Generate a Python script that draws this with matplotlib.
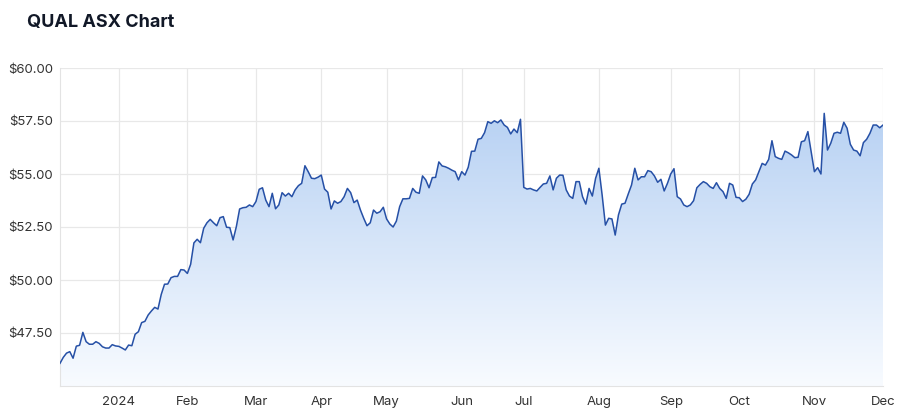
import numpy as np
import pandas as pd
import matplotlib
matplotlib.use("Agg")
import matplotlib.pyplot as plt
from matplotlib.colors import LinearSegmentedColormap

# ASX trading days, Dec 2023 - Dec 2024
start_date = "2023-12-04"
end_date = "2024-12-02"
holidays = ["2023-12-25", "2023-12-26", "2024-01-01", "2024-01-26",
            "2024-03-29", "2024-04-01", "2024-04-25", "2024-06-10"]

# closing prices
prices = [
    46.07, 46.35, 46.55, 46.62, 46.31, 46.88, 46.92, 47.53, 47.09, 46.97,
    46.97, 47.09, 47.01, 46.85, 46.79, 46.79, 46.95, 46.89, 46.87, 46.79,
    46.70, 46.93, 46.90, 47.44, 47.56, 47.99, 48.05, 48.35, 48.54, 48.71,
    48.63, 49.32, 49.80, 49.81, 50.11, 50.17, 50.17, 50.49, 50.47, 50.31,
    50.74, 51.75, 51.92, 51.76, 52.44, 52.70, 52.86, 52.70, 52.56, 52.94,
    52.99, 52.49, 52.47, 51.89, 52.52, 53.35, 53.41, 53.43, 53.54, 53.46,
    53.70, 54.28, 54.35, 53.77, 53.46, 54.09, 53.36, 53.54, 54.12, 53.96,
    54.09, 53.93, 54.25, 54.45, 54.56, 55.39, 55.11, 54.80, 54.78, 54.85,
    54.95, 54.29, 54.14, 53.35, 53.73, 53.62, 53.70, 53.93, 54.32, 54.12,
    53.65, 53.77, 53.30, 52.91, 52.56, 52.70, 53.30, 53.15, 53.22, 53.43,
    52.88, 52.64, 52.50, 52.78, 53.46, 53.83, 53.83, 53.85, 54.32, 54.14,
    54.09, 54.91, 54.72, 54.35, 54.83, 54.84, 55.57, 55.38, 55.34, 55.27,
    55.18, 55.11, 54.72, 55.11, 54.95, 55.32, 56.07, 56.08, 56.64, 56.68,
    56.95, 57.47, 57.39, 57.51, 57.42, 57.55, 57.31, 57.20, 56.89, 57.12,
    56.95, 57.58, 54.37, 54.29, 54.32, 54.25, 54.20, 54.37, 54.53, 54.56,
    54.91, 54.25, 54.80, 54.95, 54.94, 54.25, 53.96, 53.85, 54.64, 54.64,
    53.93, 53.58, 54.32, 53.96, 54.80, 55.27, 54.01, 52.59, 52.91, 52.88,
    52.12, 53.07, 53.58, 53.62, 54.06, 54.48, 55.27, 54.72, 54.87, 54.87,
    55.16, 55.11, 54.91, 54.61, 54.75, 54.20, 54.56, 55.00, 55.25, 53.93,
    53.82, 53.54, 53.46, 53.54, 53.74, 54.35, 54.51, 54.64, 54.56, 54.40,
    54.32, 54.59, 54.32, 54.17, 53.85, 54.56, 54.48, 53.90, 53.88, 53.70,
    53.81, 54.04, 54.53, 54.72, 55.11, 55.50, 55.42, 55.69, 56.57, 55.82,
    55.74, 55.69, 56.08, 56.00, 55.90, 55.77, 55.79, 56.52, 56.57, 57.00,
    56.05, 55.11, 55.30, 55.00, 57.86, 56.13, 56.45, 56.92, 56.97, 56.92,
    57.44, 57.16, 56.40, 56.13, 56.08, 55.86, 56.48, 56.64, 56.92, 57.31,
    57.31, 57.18, 57.31,
]

y_ticks = [47.5, 50.0, 52.5, 55.0, 57.5, 60.0]

dates = pd.bdate_range(start_date, end_date)
dates = dates[~dates.isin(pd.to_datetime(holidays))]
x = np.arange(len(dates))

# first trading day of each month (skip the partial first month)
first = np.r_[False, dates.month[1:] != dates.month[:-1]]
tick_pos = x[first]
tick_lbl = ["2024" if d.month == 1 else d.strftime("%b") for d in dates[first]]

plt.rcParams["font.family"] = ["Inter", "DejaVu Sans"]

fig = plt.figure(figsize=(9.1, 4.17), dpi=100)
ax = fig.add_axes([60 / 910, 1 - 386 / 417, 823 / 910, 318 / 417])

# gradient fill under the line
poly = ax.fill_between(x, prices, 45, facecolor="none", edgecolor="none")
cmap = LinearSegmentedColormap.from_list("g", ["#f8fbff", "#b7d1f3"])
grad = np.linspace(0, 1, 256).reshape(-1, 1)
im = ax.imshow(grad, extent=[x[0], x[-1], 45, 58], origin="lower",
               aspect="auto", cmap=cmap, zorder=1)
im.set_clip_path(poly.get_paths()[0], transform=ax.transData)

ax.plot(x, prices, color="#2650a6", lw=1.1, zorder=3)

ax.set_xlim(x[0], x[-1])
ax.set_ylim(45, 60)
ax.set_xticks(tick_pos)
ax.set_xticklabels(tick_lbl)
ax.set_yticks(y_ticks)
ax.set_yticklabels([f"${v:.2f}" for v in y_ticks])

ax.grid(True, color="#e8e8e8", lw=0.9, zorder=0)
ax.set_axisbelow(True)
for s in ["top", "right"]:
    ax.spines[s].set_visible(False)
for s in ["left", "bottom"]:
    ax.spines[s].set_color("#e3e3e3")
ax.tick_params(length=0, labelsize=9.5, labelcolor="#333333")
ax.tick_params(axis="x", pad=7)
ax.tick_params(axis="y", pad=5)

fig.text(27 / 910, 1 - 22 / 417, "QUAL ASX Chart", fontsize=13,
         fontweight="bold", color="#111827", va="center", ha="left")

fig.savefig("out.png", dpi=100)
